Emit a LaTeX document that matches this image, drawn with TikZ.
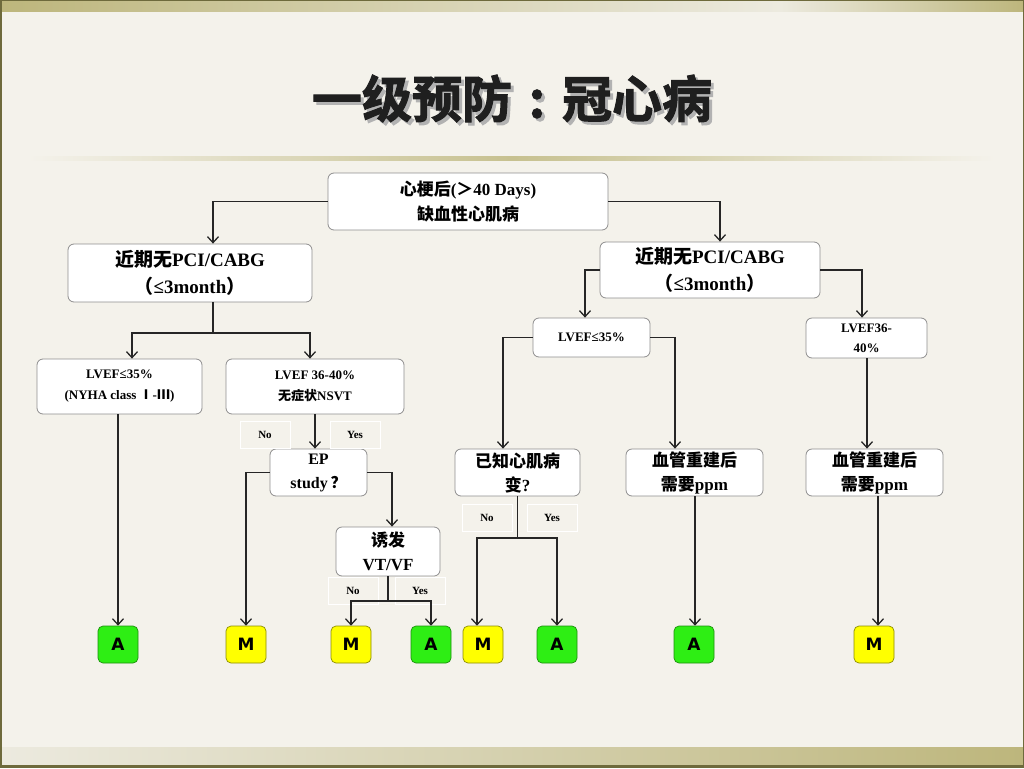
\documentclass[tikz,border=0pt]{standalone}
\usepackage{fontspec}
\usetikzlibrary{arrows.meta}
\setmainfont{Liberation Serif}
\newfontfamily\cjk{Noto Sans CJK SC}
\newfontfamily\cjktitle{Noto Sans CJK SC}[UprightFont=* Bold, FakeBold=2]
\newfontfamily\resfont{DejaVu Sans}
\newcommand\zh[1]{{\cjk\bfseries #1}}
\newcommand\titletext{一级预防\makebox[1em][c]{:}冠心病}
\definecolor{bgcream}{HTML}{F4F2EB}
\definecolor{bandolive}{HTML}{BDB67C}
\definecolor{bandlight}{HTML}{ECEADF}
\definecolor{edgeolive}{HTML}{6E6A3C}
\definecolor{boxgray}{HTML}{8E8E8E}
\definecolor{resgreen}{HTML}{2EEE14}
\definecolor{resyellow}{HTML}{FFFF00}
\tikzset{
  flowbox/.style={draw=boxgray,line width=0.8pt,fill=white,rounded corners=6pt,
    align=center,inner sep=0pt,font=\bfseries},
  tagbox/.style={draw=white,line width=0.9pt,inner sep=0pt,minimum width=50pt,
    minimum height=27pt,font=\fontsize{11}{13}\selectfont\bfseries},
  resbox/.style={rounded corners=5pt,minimum width=40pt,minimum height=37pt,
    inner sep=0pt,line width=0.7pt,font=\resfont\bfseries\fontsize{17}{17}\selectfont},
  resA/.style={resbox,fill=resgreen,draw=resgreen!60!black},
  resM/.style={resbox,fill=resyellow,draw=resyellow!55!black},
  arr/.style={draw=black!85,line width=1.3pt,-{Straight Barb[length=6pt,width=11pt]}},
  link/.style={draw=black!85,line width=1.3pt}
}
\begin{document}
\begin{tikzpicture}[x=1pt,y=-1pt]
\useasboundingbox (0,0) rectangle (1024,768);
% slide background
\fill[bgcream] (0,0) rectangle (1024,768);
\shade[left color=bandolive,right color=bandlight] (0,0) rectangle (780,12);
\shade[left color=bandlight,right color=bandolive] (780,0) rectangle (1024,12);
\fill[edgeolive] (0,0) rectangle (1024,1.5);
\shade[left color=bandlight,right color=bandolive] (0,747) rectangle (1024,765);
\fill[edgeolive] (0,765) rectangle (1024,768);
\fill[edgeolive] (0,0) rectangle (1.5,768);
\fill[edgeolive] (1022.5,0) rectangle (1024,768);
\shade[left color=bgcream,right color=bandolive!85] (28,156.5) rectangle (512,160);
\shade[left color=bandolive!85,right color=bgcream] (512,156.5) rectangle (995,160);
% title with drop shadow
\node[text=black!88,font=\cjktitle\fontsize{50}{50}\selectfont] (title) at (512,100)
  {\makebox[0pt][l]{\hspace{3pt}\raisebox{-3pt}{\color{black!30}\titletext}}\titletext};
% decision boxes
\node[flowbox,minimum width=280pt,minimum height=57pt,font=\fontsize{17}{25}\selectfont\bfseries] (root) at (468,201.5)
  {\zh{心梗后}(\zh{＞}40 Days)\\ \zh{缺血性心肌病}};
\node[flowbox,minimum width=244pt,minimum height=58pt,font=\fontsize{19}{27}\selectfont\bfseries] (recentL) at (190,273)
  {\zh{近期无}PCI/CABG\\ \zh{（}≤3month\zh{）}};
\node[flowbox,minimum width=220pt,minimum height=56pt,font=\fontsize{19}{27}\selectfont\bfseries] (recentR) at (710,270)
  {\zh{近期无}PCI/CABG\\ \zh{（}≤3month\zh{）}};
\node[flowbox,minimum width=165pt,minimum height=55pt,font=\fontsize{13}{21}\selectfont\bfseries] (lvefLowL) at (119.5,386.5)
  {LVEF≤35\%\\ (NYHA class \zh{Ⅰ}-\zh{Ⅲ})};
\node[flowbox,minimum width=178pt,minimum height=55pt,font=\fontsize{13}{21}\selectfont\bfseries] (lvefMidL) at (315,386.5)
  {LVEF 36-40\%\\ \zh{无症状}NSVT};
\node[flowbox,minimum width=117pt,minimum height=39pt,font=\fontsize{13}{20}\selectfont\bfseries] (lvefLowR) at (591.5,337.5)
  {LVEF≤35\%};
\node[flowbox,minimum width=121pt,minimum height=40pt,font=\fontsize{13}{20}\selectfont\bfseries] (lvefMidR) at (866.5,338)
  {LVEF36-\\40\%};
\node[flowbox,minimum width=97pt,minimum height=47pt,font=\fontsize{16}{24}\selectfont\bfseries] (epStudy) at (318.5,472.5)
  {EP\\ study\,\zh{？}};
\node[flowbox,minimum width=104pt,minimum height=49pt,font=\fontsize{17}{24}\selectfont\bfseries] (induce) at (388,551.5)
  {\zh{诱发}\\ VT/VF};
\node[flowbox,minimum width=125pt,minimum height=47pt,font=\fontsize{17}{24}\selectfont\bfseries] (knownCM) at (517.5,472.5)
  {\zh{已知心肌病}\\ \zh{变}?};
\node[flowbox,minimum width=137pt,minimum height=47pt,font=\fontsize{17}{24}\selectfont\bfseries] (revascA) at (694.5,472.5)
  {\zh{血管重建后}\\ \zh{需要}ppm};
\node[flowbox,minimum width=137pt,minimum height=47pt,font=\fontsize{17}{24}\selectfont\bfseries] (revascB) at (874.5,472.5)
  {\zh{血管重建后}\\ \zh{需要}ppm};
% no / yes tags
\node[tagbox] (noEP) at (265,435) {No};
\node[tagbox] (yesEP) at (355,435) {Yes};
\node[tagbox] (noVT) at (353,591) {No};
\node[tagbox] (yesVT) at (420,591) {Yes};
\node[tagbox] (noCM) at (487,518) {No};
\node[tagbox] (yesCM) at (552,518) {Yes};
% outcomes
\node[resA] (res1) at (118,644.5) {A};
\node[resM] (res2) at (246,644.5) {M};
\node[resM] (res3) at (351,644.5) {M};
\node[resA] (res4) at (431,644.5) {A};
\node[resM] (res5) at (483,644.5) {M};
\node[resA] (res6) at (557,644.5) {A};
\node[resA] (res7) at (694,644.5) {A};
\node[resM] (res8) at (874,644.5) {M};
% connectors
\draw[arr] (root.west) -| ([xshift=23pt]recentL.north);
\draw[arr] (root.east) -| ([xshift=10pt]recentR.north);
\coordinate (forkL) at (213,333);
\draw[link] ([xshift=23pt]recentL.south) -- (forkL);
\draw[arr] (forkL) -| ([xshift=12.5pt]lvefLowL.north);
\draw[arr] (forkL) -| ([xshift=-5pt]lvefMidL.north);
\draw[arr] (recentR.west) -| ([xshift=-6.5pt]lvefLowR.north);
\draw[arr] (recentR.east) -| ([xshift=-4.5pt]lvefMidR.north);
\draw[arr] (lvefLowR.west) -| ([xshift=-14.5pt]knownCM.north);
\draw[arr] (lvefLowR.east) -| ([xshift=-19.5pt]revascA.north);
\draw[arr] ([xshift=0.5pt]lvefMidR.south) -- ([xshift=0.5pt]lvefMidR.south |- revascB.north);
\draw[arr] (lvefLowL.south -| res1.north) -- (res1.north);
\draw[arr] (lvefMidL.south) -- (lvefMidL.south |- epStudy.north);
\draw[arr] (epStudy.west) -| (res2.north);
\draw[arr] (epStudy.east) -| ([xshift=4pt]induce.north);
\coordinate (forkVT) at (388,601);
\draw[link] (induce.south) -- (forkVT);
\draw[arr] (forkVT) -| (res3.north);
\draw[arr] (forkVT) -| (res4.north);
\coordinate (forkCM) at (517.5,538);
\draw[link] (knownCM.south) -- (forkCM);
\draw[arr] (forkCM) -| ([xshift=-6pt]res5.north);
\draw[arr] (forkCM) -| (res6.north);
\draw[arr] ([xshift=0.5pt]revascA.south) -- ([xshift=0.5pt]revascA.south |- res7.north);
\draw[arr] ([xshift=3.5pt]revascB.south) -- ([xshift=3.5pt]revascB.south |- res8.north);
\end{tikzpicture}
\end{document}
